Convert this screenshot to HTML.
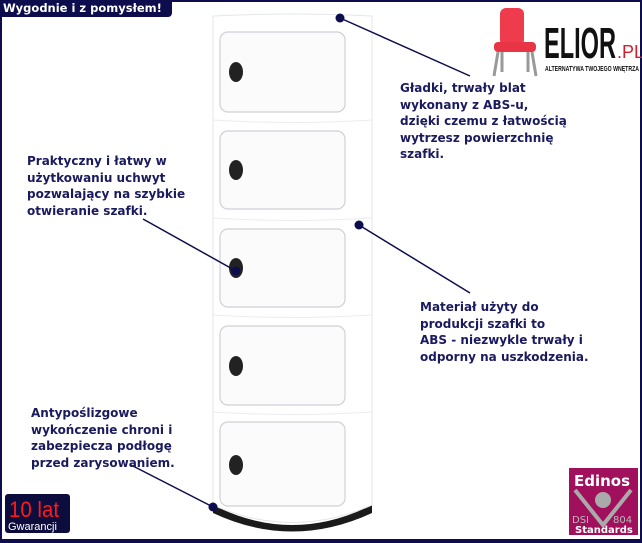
<!DOCTYPE html>
<html><head><meta charset="utf-8"><style>
body{margin:0;width:642px;height:543px;overflow:hidden;background:#fff;position:relative;font-family:"DejaVu Sans","Liberation Sans",sans-serif}
.frame{position:absolute;left:0;top:0;width:638px;height:537px;border:2px solid #0d0d4d;border-bottom:4px solid #0d0d4d}
.t{position:absolute;color:#1a1a5e;font-weight:bold;font-size:12px;line-height:16.5px;white-space:nowrap}
</style></head><body>
<div class="frame"></div>
<div style="position:absolute;left:0;top:0;width:172px;height:17px;background:#0d0d4d;border-radius:0 0 4px 0;color:#fff;font-weight:bold;font-size:11.5px;line-height:16px;padding-left:3px;box-sizing:border-box">Wygodnie i z pomysłem!</div>
<svg width="642" height="543" style="position:absolute;left:0;top:0">
 <!-- cabinet -->
 <path d="M213 505 Q292 545 372 505 L372 513 Q292 550 213 513 Z" fill="#1a1a1a"/>
 <path d="M213 505 L213 16 Q292 12 372 16 L372 505 Q292 540 213 505 Z" fill="#fff" stroke="#e6e6ea"/>
 <g fill="#fbfbfc" stroke="#d0d0d6" stroke-width="1.2">
  <rect x="220" y="32" width="125" height="80" rx="8"/>
  <rect x="220" y="131" width="125" height="78" rx="8"/>
  <rect x="220" y="229" width="125" height="78" rx="8"/>
  <rect x="220" y="326" width="125" height="79" rx="8"/>
  <rect x="220" y="422" width="125" height="84" rx="8"/>
 </g>
 <g stroke="#ececf0" fill="none"><path d="M213 120 Q292 125 372 120"/><path d="M213 218 Q292 223 372 218"/><path d="M213 315 Q292 320 372 315"/><path d="M213 412 Q292 417 372 412"/></g>
 <g fill="#222">
  <ellipse cx="236" cy="72" rx="7" ry="10"/><ellipse cx="236" cy="170" rx="7" ry="10"/>
  <ellipse cx="236" cy="268" rx="7" ry="10"/><ellipse cx="236" cy="366" rx="7" ry="10"/>
  <ellipse cx="236" cy="465" rx="7" ry="10"/>
 </g>
 <!-- connectors -->
 <g stroke="#0d0d4d" stroke-width="1.5" fill="none">
  <line x1="340" y1="18" x2="470" y2="76"/><line x1="143" y1="219" x2="236" y2="271"/>
  <line x1="359" y1="225" x2="470" y2="293"/><line x1="131" y1="465" x2="213" y2="507"/>
 </g>
 <g fill="#0d0d4d"><circle cx="340" cy="18" r="4.5"/><circle cx="236" cy="271" r="4.5"/><circle cx="359" cy="225" r="4.5"/><circle cx="213" cy="507" r="4.5"/></g>
 <!-- chair logo -->
 <g>
  <rect x="500" y="8" width="24" height="38" rx="6" fill="#ee3c4c"/>
  <rect x="494" y="42" width="42" height="10" rx="4" fill="#e83545"/>
  <g stroke="#999" stroke-width="3"><line x1="498" y1="52" x2="494" y2="76"/><line x1="532" y1="52" x2="536" y2="76"/><line x1="502" y1="52" x2="502" y2="72"/><line x1="528" y1="52" x2="528" y2="72"/></g>
 </g>
 <text x="544" y="58" font-family="Liberation Sans Narrow,Liberation Sans,sans-serif" font-weight="bold" font-size="44" fill="#111" textLength="72" lengthAdjust="spacingAndGlyphs">ELIOR</text>
 <text x="617" y="58" font-family="Liberation Sans" font-size="18" fill="#d02030">.PL</text>
 <text x="545" y="71" font-family="Liberation Sans" font-weight="bold" font-size="7" fill="#111" textLength="94" lengthAdjust="spacingAndGlyphs">ALTERNATYWA TWOJEGO WNĘTRZA</text>
 <!-- 10 lat -->
 <rect x="5" y="494" width="65" height="39" rx="3" fill="#0d0d3d"/>
 <text x="9" y="517" font-family="Liberation Sans" font-size="22" fill="#ff1a1a" textLength="50" lengthAdjust="spacingAndGlyphs">10 lat</text>
 <text x="8" y="530" font-family="Liberation Sans" font-size="11" fill="#fff">Gwarancji</text>
 <!-- edinos -->
 <rect x="569" y="468" width="69" height="67" fill="#a1105c"/>
 <text x="574" y="486" font-family="DejaVu Sans" font-weight="bold" font-size="15" fill="#fff">Edinos</text>
 <path d="M575 490 L603 525 L631 490" stroke="#aaa" stroke-width="4" fill="none"/>
 <circle cx="603" cy="500" r="8" fill="#aaa"/>
 <text x="572" y="523" font-family="DejaVu Sans" font-size="10" fill="#bbb">DSI</text>
 <text x="613" y="523" font-family="DejaVu Sans" font-size="10" fill="#bbb">804</text>
 <text x="575" y="533" font-family="DejaVu Sans" font-weight="bold" font-size="10" fill="#fff">Standards</text>
</svg>
<div class="t" style="left:400px;top:80px">Gładki, trwały blat<br>wykonany z ABS-u,<br>dzięki czemu z łatwością<br>wytrzesz powierzchnię<br>szafki.</div>
<div class="t" style="left:27px;top:153px">Praktyczny i łatwy w<br>użytkowaniu uchwyt<br>pozwalający na szybkie<br>otwieranie szafki.</div>
<div class="t" style="left:420px;top:299px">Materiał użyty do<br>produkcji szafki to<br>ABS - niezwykle trwały i<br>odporny na uszkodzenia.</div>
<div class="t" style="left:31px;top:405px">Antypoślizgowe<br>wykończenie chroni i<br>zabezpiecza podłogę<br>przed zarysowaniem.</div>
</body></html>
